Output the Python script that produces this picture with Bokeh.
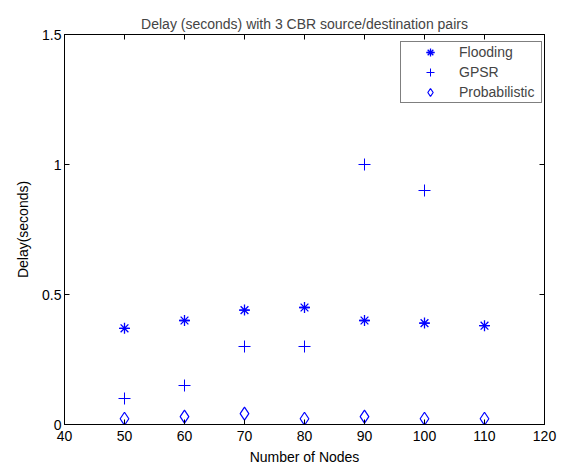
from bokeh.plotting import figure
from bokeh.models import (LinearAxis, FixedTicker, Legend, LegendItem, Range1d)
from bokeh.embed import file_html
from bokeh.resources import INLINE

# ---- data ----
nodes = [50, 60, 70, 80, 90, 100, 110]
flooding = [0.37, 0.40, 0.44, 0.45, 0.40, 0.39, 0.38]
gpsr_nodes = [50, 60, 70, 80, 90, 100]
gpsr = [0.10, 0.15, 0.30, 0.30, 1.00, 0.90]
probabilistic = [0.022, 0.030, 0.042, 0.022, 0.030, 0.022, 0.022]

x_ticks = [40, 50, 60, 70, 80, 90, 100, 110, 120]
y_ticks = [0, 0.5, 1, 1.5]
y_tick_labels = ["0", "0.5", "1", "1.5"]

title_text = "Delay (seconds) with 3 CBR source/destination pairs"
x_label = "Number of Nodes"
y_label = "Delay(seconds)"
series_names = ["Flooding", "GPSR", "Probabilistic"]

FONT = "Liberation Sans"
BLUE = "#0000ff"

p = figure(output_backend="svg", toolbar_location=None,
           x_range=Range1d(40, 120), y_range=Range1d(0, 1.5),
           frame_width=480, frame_height=390,
           min_border_left=64, min_border_right=13, min_border_top=34,
           min_border_bottom=40, title=title_text)
p.title.text_font = FONT
p.title.text_font_size = "14px"
p.title.text_font_style = "normal"
p.title.align = "center"
p.title.standoff = 5

p.xgrid.visible = False
p.ygrid.visible = False
p.outline_line_color = "black"
p.outline_line_width = 1

for ax in (p.xaxis[0], p.yaxis[0]):
    ax.axis_line_color = "black"
    ax.major_tick_line_color = "black"
    ax.major_tick_in = 5
    ax.major_tick_out = 0
    ax.minor_tick_line_color = None
    ax.major_label_text_font = FONT
    ax.major_label_text_font_size = "14px"
    ax.major_label_text_color = "black"
    ax.axis_label_text_font = FONT
    ax.axis_label_text_font_size = "14px"
    ax.axis_label_text_font_style = "normal"
    ax.axis_label_text_color = "black"

p.xaxis[0].major_label_standoff = 6
p.yaxis[0].major_label_standoff = 3
p.xaxis[0].ticker = FixedTicker(ticks=x_ticks)
p.yaxis[0].ticker = FixedTicker(ticks=y_ticks)
p.yaxis[0].major_label_overrides = {t: l for t, l in zip(y_ticks, y_tick_labels)}
p.xaxis[0].axis_label = x_label
p.yaxis[0].axis_label = y_label
p.xaxis[0].axis_label_standoff = 5
p.yaxis[0].axis_label_standoff = 8

# box axes (top and right) with inward ticks, labels not drawn
top = LinearAxis(ticker=FixedTicker(ticks=x_ticks), major_tick_in=5, major_tick_out=0,
                 minor_tick_line_color=None, major_label_text_font_size="1px",
                 major_label_text_color=None, major_label_standoff=0,
                 axis_line_color="black")
right = LinearAxis(ticker=FixedTicker(ticks=y_ticks), major_tick_in=5, major_tick_out=0,
                   minor_tick_line_color=None, major_label_text_font_size="1px",
                   major_label_text_color=None, major_label_standoff=0,
                   axis_line_color="black")
p.add_layout(top, "above")
p.add_layout(right, "right")

r1a = p.scatter(nodes, flooding, marker="asterisk", size=11, line_color=BLUE, line_width=1.3)
r1b = p.scatter(nodes, flooding, marker="dash", size=10, line_color=BLUE, line_width=1.3)
r2 = p.scatter(gpsr_nodes, gpsr, marker="cross", size=12, line_color=BLUE, line_width=1)
r3 = p.scatter(nodes, probabilistic, marker="diamond", size=13, line_color=BLUE,
               fill_color=None, line_width=1.2)

legend = Legend(items=[LegendItem(label=series_names[0], renderers=[r1a, r1b]),
                       LegendItem(label=series_names[1], renderers=[r2]),
                       LegendItem(label=series_names[2], renderers=[r3])],
                location=(336, 321), padding=0, spacing=0, margin=0,
                glyph_width=58, glyph_height=20, label_height=20, label_width=82,
                label_standoff=0, label_text_font=FONT, label_text_font_size="14px",
                border_line_color="black", border_line_width=1,
                background_fill_color="white", background_fill_alpha=1)
p.add_layout(legend, "center")

open("out.html", "w").write(file_html(p, INLINE))
